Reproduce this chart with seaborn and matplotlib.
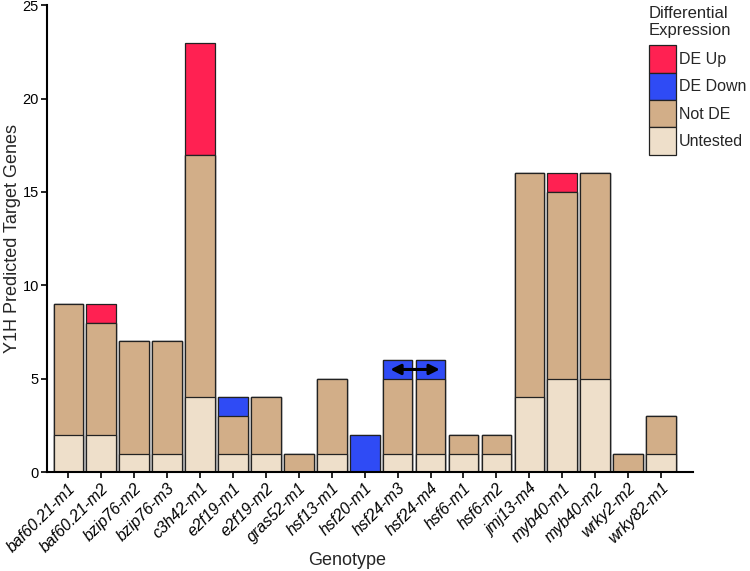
import numpy as np
import pandas as pd
import seaborn as sns
import matplotlib.pyplot as plt
from matplotlib.patches import Patch

genotypes = ["baf60.21-m1", "baf60.21-m2", "bzip76-m2", "bzip76-m3", "c3h42-m1",
             "e2f19-m1", "e2f19-m2", "gras52-m1", "hsf13-m1", "hsf20-m1",
             "hsf24-m3", "hsf24-m4", "hsf6-m1", "hsf6-m2", "jmj13-m4",
             "myb40-m1", "myb40-m2", "wrky2-m2", "wrky82-m1"]
untested = [2, 2, 1, 1, 4, 1, 1, 0, 1, 0, 1, 1, 1, 1, 4, 5, 5, 0, 1]
not_de   = [7, 6, 6, 6, 13, 2, 3, 1, 4, 0, 4, 4, 1, 1, 12, 10, 11, 1, 2]
de_down  = [0, 0, 0, 0, 0, 1, 0, 0, 0, 2, 1, 1, 0, 0, 0, 0, 0, 0, 0]
de_up    = [0, 1, 0, 0, 6, 0, 0, 0, 0, 0, 0, 0, 0, 0, 0, 1, 0, 0, 0]

colors = {"DE Up": "#ff2152", "DE Down": "#2f4bf5",
          "Not DE": "#d2ae88", "Untested": "#eedfca"}

df = pd.DataFrame({"Genotype": genotypes, "Untested": untested,
                   "Not DE": not_de, "DE Down": de_down, "DE Up": de_up})
# cumulative heights, drawn tallest first so each layer overlays the next
df["c_untested"] = df["Untested"]
df["c_notde"] = df["c_untested"] + df["Not DE"]
df["c_down"] = df["c_notde"] + df["DE Down"]
df["c_up"] = df["c_down"] + df["DE Up"]

sns.set_style("ticks")
plt.rcParams["font.family"] = ["Liberation Sans", "DejaVu Sans"]

fig = plt.figure(figsize=(7.5, 5.71), dpi=100)
ax = fig.add_axes([0.063, 0.173, 0.861, 0.818])

for col, lab in [("c_up", "DE Up"), ("c_down", "DE Down"),
                 ("c_notde", "Not DE"), ("c_untested", "Untested")]:
    sns.barplot(data=df, x="Genotype", y=col, color=colors[lab], ax=ax,
                width=0.9, edgecolor="#222222", linewidth=0.9, saturation=1,
                errorbar=None)

# double-headed arrow between hsf24-m3 and hsf24-m4
ax.annotate("", xy=(9.78, 5.5), xytext=(11.28, 5.5),
            arrowprops=dict(arrowstyle="<|-|>", color="black", lw=2.2,
                            mutation_scale=15, shrinkA=0, shrinkB=0))

ax.set_xlim(-0.64, 18.97)
ax.set_ylim(0, 25)
ax.set_yticks([0, 5, 10, 15, 20, 25])
ax.tick_params(axis="y", labelsize=10.5, length=4, width=1.2, colors="black", pad=2)
ax.tick_params(axis="x", labelsize=11.5, length=4, width=1.2, colors="black", pad=2)
plt.setp(ax.get_xticklabels(), rotation=45, ha="right", rotation_mode="anchor",
         style="italic")
ax.set_xlabel("Genotype", fontsize=13)
ax.set_ylabel("Y1H Predicted Target Genes", fontsize=13)
ax.xaxis.set_label_coords(0.464, -0.17)
ax.yaxis.set_label_coords(-0.040, 0.5)
sns.despine(ax=ax)
for s in ["left", "bottom"]:
    ax.spines[s].set_linewidth(1.5)
    ax.spines[s].set_color("black")

handles = [Patch(facecolor=colors[k], edgecolor="#222222", linewidth=0.9)
           for k in ["DE Up", "DE Down", "Not DE", "Untested"]]
leg = fig.legend(handles, ["DE Up", "DE Down", "Not DE", "Untested"],
                 title="Differential\nExpression", loc="upper left",
                 bbox_to_anchor=(0.865, 0.99), frameon=False, fontsize=11.5,
                 title_fontsize=12, handlelength=1.72, handleheight=2.27,
                 labelspacing=0.0, handletextpad=0.15, borderpad=0,
                 borderaxespad=0, alignment="left")
leg._legend_box.sep = 5  # small gap between title and swatches

fig.savefig("out.png", dpi=100)
